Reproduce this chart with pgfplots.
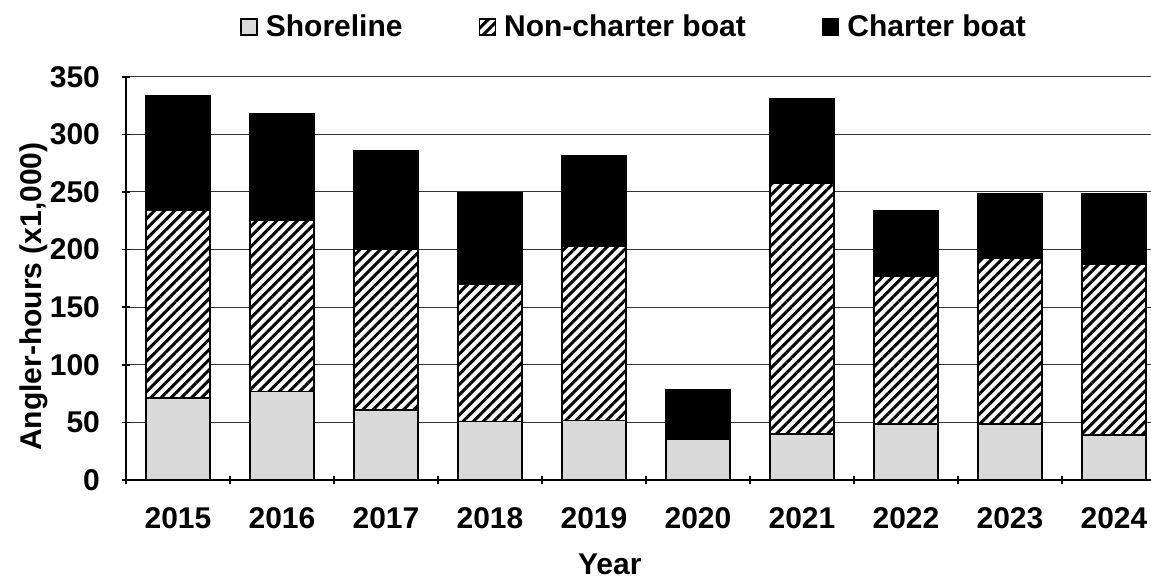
\documentclass[border=0pt]{standalone}
\usepackage{pgfplots}
\pgfplotsset{compat=1.18}
\usetikzlibrary{patterns.meta}
\usepackage{fontspec}
\setmainfont{Liberation Sans}
\definecolor{shore}{RGB}{217,217,217}
\pgfplotstableread{
x shore non charter
0 71.4 162.6 99.2
1 76.7 148.9 92.0
2 60.7 139.8 85.6
3 50.6 119.5 79.0
4 51.5 151.0 79.0
5 35.6 0.0 43.1
6 39.9 217.3 73.4
7 48.6 128.7 56.1
8 48.6 143.5 56.7
9 39.1 147.8 61.9
}\datatable
\newcommand{\lbl}{\fontsize{15}{17}\selectfont\bfseries}
\begin{document}
\begin{tikzpicture}
\begin{axis}[
  at={(0,0)}, anchor=south west,
  width=512.5pt, height=201.65pt, scale only axis,
  ybar stacked, bar width=32pt,
  xmin=-0.5, xmax=9.356, ymin=0, ymax=350,
  ytick={0,50,...,350},
  xtick={0,...,9},
  xticklabels={2015,2016,2017,2018,2019,2020,2021,2022,2023,2024},
  minor xtick={-0.5,0.5,...,8.5},
  every major x tick/.style={draw=none},
  tick align=outside, major tick length=4pt, minor tick length=4pt,
  tick style={black, line width=0.8pt},
  axis lines=left, axis line style={line width=0.8pt, -},
  ymajorgrids, grid style={black!80, line width=0.55pt},
  /pgf/number format/assume math mode=true,
  ticklabel style={font=\lbl},
  yticklabel style={xshift=-7.5pt},
  xticklabel style={yshift=-8pt},
  xlabel={Year}, ylabel={Angler-hours (x1,000)},
  label style={font=\lbl},
  xlabel style={at={(axis description cs:0.472,-0.21)}, anchor=center},
  ylabel style={at={(axis description cs:-0.0897,0.455)}, anchor=center},
  legend columns=3,
  legend style={draw=none, at={(axis description cs:0.4966,1.1232)}, anchor=center,
    font=\lbl,
    /tikz/every odd column/.append style={column sep=2pt},
    /tikz/every even column/.append style={column sep=36pt}},
  legend image code/.code={\draw[#1] (0pt,-4pt) rectangle (8pt,4pt);},
]
\addplot+[draw=black, line width=0.8pt, fill=shore] table[x=x,y=shore]{\datatable};
\addplot+[draw=black, line width=0.8pt, fill=white,
  postaction={pattern={Lines[angle=45,distance=3.6pt,line width=1.5pt]}, pattern color=black}] table[x=x,y=non]{\datatable};
\addplot+[draw=black, line width=0.8pt, fill=black] table[x=x,y=charter]{\datatable};
\legend{Shoreline,Non-charter boat,Charter boat}
\end{axis}
\pgfresetboundingbox
\useasboundingbox (-63pt,-49.5pt) rectangle (512.5pt,240pt);
\end{tikzpicture}
\end{document}
